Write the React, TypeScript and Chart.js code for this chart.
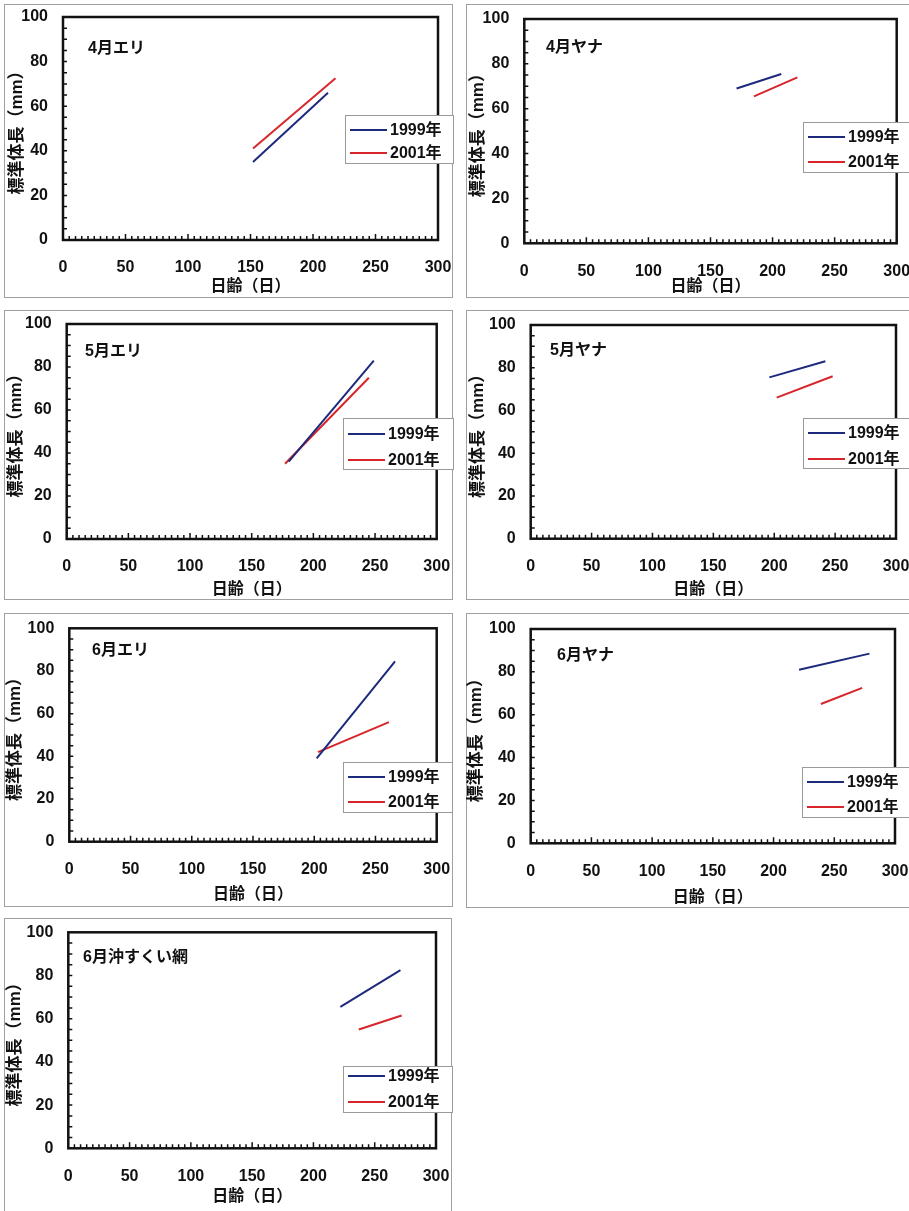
import React, { useEffect, useRef } from 'react';
import { Chart, registerables } from 'chart.js';

Chart.register(...registerables);

// ---- data ----
const panelTitles = ['4月エリ', '4月ヤナ', '5月エリ', '5月ヤナ', '6月エリ', '6月ヤナ', '6月沖すくい網'];
const seriesLabels = ['1999年', '2001年'];
const seriesColors = ['#1d2a7c', '#d7262b'];
// age in days (start, end) and standard length in mm (start, end) for each panel
const age1999 = [[152, 212], [171, 207], [180, 249], [196, 242], [202, 266], [221, 279], [222, 271]];
const len1999 = [[35, 66], [69, 75.5], [36, 83], [75.5, 83], [39, 84.5], [81, 88.5], [65.5, 82.5]];
const age2001 = [[152, 218], [185, 220], [177, 245], [202, 248], [203, 261], [239, 273], [237, 272]];
const len2001 = [[41, 72.5], [65.5, 74], [35, 75], [66, 76], [42, 56], [65, 72.5], [55, 61.5]];
const xTickValues = [0, 50, 100, 150, 200, 250, 300];
const yTickValues = [0, 20, 40, 60, 80, 100];
const xTitle = '日齢（日）';
const yTitle = '標準体長（mm）';

// ---- layout (page coordinates) ----
const layouts = [
  { ox: 0, oy: 0, w: 456, h: 303, L: 63, R: 438, T: 17, B: 240, yt: 17, xt: 287, tx: 88, ty: 53, lg: [345, 115, 108, 48], rows: [130, 153] },
  { ox: 460, oy: 0, w: 449, h: 303, L: 524.3, R: 896.7, T: 19, B: 243.3, yt: 478, xt: 287, tx: 546, ty: 52, lg: [803, 122, 112, 50], rows: [137, 162] },
  { ox: 0, oy: 303, w: 456, h: 303, L: 66.7, R: 436.7, T: 324, B: 539, yt: 16, xt: 590, tx: 85, ty: 356, lg: [343, 418, 110, 51], rows: [434, 460] },
  { ox: 460, oy: 303, w: 449, h: 303, L: 530.7, R: 896, T: 325, B: 538.7, yt: 478, xt: 590, tx: 550, ty: 355, lg: [803, 418, 112, 50], rows: [433, 459] },
  { ox: 0, oy: 606, w: 456, h: 303, L: 69.3, R: 436.7, T: 628.3, B: 841.7, yt: 15, xt: 895, tx: 92, ty: 655, lg: [343, 762, 109, 50], rows: [777, 802] },
  { ox: 460, oy: 606, w: 449, h: 303, L: 530.7, R: 895, T: 629, B: 843.3, yt: 476, xt: 898, tx: 557, ty: 660, lg: [802, 767, 112, 50], rows: [782, 807] },
  { ox: 0, oy: 909, w: 456, h: 302, L: 68.3, R: 436, T: 932.3, B: 1148.3, yt: 15, xt: 1197, tx: 83, ty: 962, lg: [343, 1066, 109, 46], rows: [1076, 1102] },
];

const frames = [
  [4, 4, 453, 298],
  [466, 4, 930, 298],
  [4, 310, 453, 600],
  [466, 310, 930, 600],
  [4, 613, 453, 907],
  [466, 613, 930, 908],
  [4, 918, 452, 1230],
];

const FONT = "'Liberation Sans', 'Noto Sans CJK JP', sans-serif";
const Y_TITLE_SIZE = 17;
const X_TITLE_SIZE = 16;

const decorPlugin = {
  id: 'decor',
  afterDraw(chart: any) {
    const cfg = chart.options.plugins.decor;
    const { ctx, chartArea: a, scales } = chart;
    ctx.save();
    // inward minor ticks
    ctx.strokeStyle = '#111';
    ctx.lineWidth = 1.5;
    ctx.beginPath();
    for (let v = 5; v < 300; v += 5) {
      const x = scales.x.getPixelForValue(v);
      const len = v % 50 === 0 ? 6 : 4;
      ctx.moveTo(x, a.bottom);
      ctx.lineTo(x, a.bottom - len);
    }
    for (let v = 5; v < 100; v += 5) {
      const y = scales.y.getPixelForValue(v);
      ctx.moveTo(a.left, y);
      ctx.lineTo(a.left + 4, y);
    }
    ctx.stroke();
    // plot frame
    ctx.lineWidth = 2.5;
    ctx.strokeRect(a.left, a.top, a.right - a.left, a.bottom - a.top);
    // panel title
    ctx.fillStyle = '#111';
    ctx.font = `bold 16px ${FONT}`;
    ctx.textAlign = 'left';
    ctx.textBaseline = 'alphabetic';
    ctx.fillText(cfg.title, cfg.tx, cfg.ty);
    // legend
    const [bx, by, bw, bh] = cfg.lg;
    ctx.fillStyle = '#ffffff';
    ctx.fillRect(bx, by, bw, bh);
    ctx.strokeStyle = '#9a9a9a';
    ctx.lineWidth = 1;
    ctx.strokeRect(bx + 0.5, by + 0.5, bw, bh);
    chart.data.datasets.forEach((ds: any, i: number) => {
      const ry = cfg.rows[i];
      ctx.strokeStyle = ds.borderColor;
      ctx.lineWidth = 2.2;
      ctx.beginPath();
      ctx.moveTo(bx + 5, ry);
      ctx.lineTo(bx + 42, ry);
      ctx.stroke();
      ctx.fillStyle = '#111';
      ctx.font = `bold 16px ${FONT}`;
      ctx.textBaseline = 'middle';
      ctx.fillText(ds.label, bx + 45, ry + 1);
    });
    ctx.restore();
  },
};

function Panel({ idx }: { idx: number }) {
  const ref = useRef<HTMLCanvasElement | null>(null);
  const lay = layouts[idx];
  useEffect(() => {
    if (!ref.current) return;
    const yHalf = (Y_TITLE_SIZE * 1.2) / 2;
    const xHalf = (X_TITLE_SIZE * 1.2) / 2;
    const yW = lay.L - (lay.yt - yHalf);
    const padLeft = lay.yt - yHalf - lay.ox;
    const xH = lay.xt + xHalf - lay.B;
    const padBottom = lay.oy + lay.h - (lay.xt + xHalf);
    const padTop = lay.T - lay.oy;
    const padRight = lay.ox + lay.w - lay.R;
    const tickFont = { family: FONT, size: 16, weight: 'bold' as const };
    const mk = (ages: number[], lens: number[]) => ages.map((a, i) => ({ x: a, y: lens[i] }));
    const chart = new Chart(ref.current, {
      type: 'line',
      data: {
        datasets: [
          { label: seriesLabels[0], data: mk(age1999[idx], len1999[idx]), borderColor: seriesColors[0], borderWidth: 2, pointRadius: 0, tension: 0, fill: false },
          { label: seriesLabels[1], data: mk(age2001[idx], len2001[idx]), borderColor: seriesColors[1], borderWidth: 2, pointRadius: 0, tension: 0, fill: false },
        ],
      },
      options: {
        responsive: false,
        animation: false,
        devicePixelRatio: 1,
        layout: { autoPadding: false, padding: { left: padLeft, right: padRight, top: padTop, bottom: padBottom } },
        plugins: {
          legend: { display: false },
          tooltip: { enabled: false },
          title: { display: false },
          decor: {
            title: panelTitles[idx],
            tx: lay.tx - lay.ox,
            ty: lay.ty - lay.oy,
            lg: [lay.lg[0] - lay.ox, lay.lg[1] - lay.oy, lay.lg[2], lay.lg[3]],
            rows: lay.rows.map((r) => r - lay.oy),
          },
        } as any,
        scales: {
          x: {
            type: 'linear',
            min: 0,
            max: 300,
            afterBuildTicks: (s: any) => { s.ticks = xTickValues.map((v) => ({ value: v })); },
            afterFit: (s: any) => { s.height = xH; s.paddingLeft = 0; s.paddingRight = 0; },
            grid: { display: false, drawTicks: false },
            border: { display: false },
            ticks: { padding: 18.4, font: tickFont, color: '#111', autoSkip: false, maxRotation: 0 },
            title: { display: true, text: xTitle, font: { family: FONT, size: X_TITLE_SIZE, weight: 'bold' }, color: '#111', padding: 0 },
          },
          y: {
            type: 'linear',
            min: 0,
            max: 100,
            afterBuildTicks: (s: any) => { s.ticks = yTickValues.map((v) => ({ value: v })); },
            afterFit: (s: any) => { s.width = yW; s.paddingTop = 0; s.paddingBottom = 0; },
            grid: { display: false, drawTicks: false },
            border: { display: false },
            ticks: { padding: 15, font: tickFont, color: '#111', autoSkip: false },
            title: { display: true, text: yTitle, font: { family: FONT, size: Y_TITLE_SIZE, weight: 'bold' }, color: '#111', padding: 0 },
          },
        },
      },
      plugins: [decorPlugin as any],
    });
    return () => chart.destroy();
  }, [idx]);
  return (
    <canvas
      ref={ref}
      width={lay.w}
      height={lay.h}
      style={{ position: 'absolute', left: lay.ox, top: lay.oy, width: lay.w, height: lay.h }}
    />
  );
}

export default function App() {
  return (
    <div style={{ position: 'absolute', left: 0, top: 0, width: 909, height: 1211, overflow: 'hidden', background: '#ffffff' }}>
      {frames.map((f, i) => (
        <div
          key={'f' + i}
          style={{ position: 'absolute', left: f[0], top: f[1], width: f[2] - f[0], height: f[3] - f[1], border: '1px solid #a0a0a0', boxSizing: 'border-box' }}
        />
      ))}
      {layouts.map((_, i) => (
        <Panel key={i} idx={i} />
      ))}
    </div>
  );
}
